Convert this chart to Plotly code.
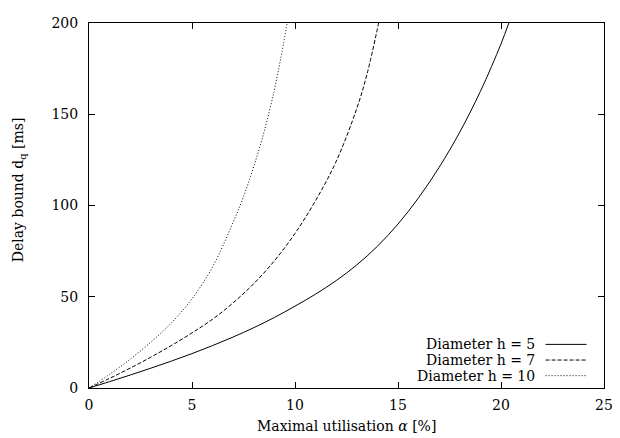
import plotly.graph_objects as go

# Data
util_h5 = [0, 1, 2, 3, 4, 5, 6, 7, 8, 9, 10, 11, 12, 13, 14, 15, 16, 17, 18, 19, 20, 20.38]
delay_h5 = [0, 3.5, 7.1, 10.85, 14.75, 18.85, 23.25, 27.95, 33.05, 38.65, 44.85, 51.45, 58.85,
            67.45, 77.65, 89.85, 104.25, 120.95, 140.25, 162.55, 188.55, 200]

util_h7 = [0, 1, 2, 3, 4, 5, 6, 7, 8, 9, 10, 11, 12, 13, 13.5, 14.06]
delay_h7 = [0, 5.3, 10.9, 16.9, 23.3, 30.2, 37.7, 46.7, 57.2, 69.7, 84.7, 102.7, 124.2, 153.2, 172.2, 200]

util_h10 = [0, 1, 2, 3, 4, 5, 6, 7, 7.5, 8, 8.5, 9, 9.3, 9.62]
delay_h10 = [0, 7.5, 15.8, 25.1, 35.7, 48.9, 66.4, 90.9, 104.9, 121.4, 140.4, 163.4, 180.2, 200]

series_names = ["Diameter h = 5", "Diameter h = 7", "Diameter h = 10"]
x_ticks = [0, 5, 10, 15, 20, 25]
y_ticks = [0, 50, 100, 150, 200]

dashes = ["solid", "4px,2px", "1px,2px"]
FONT = "DejaVu Serif, Liberation Serif, serif"
FS = 14

fig = go.Figure()
for xs, ys, name, d in zip([util_h5, util_h7, util_h10],
                           [delay_h5, delay_h7, delay_h10],
                           series_names, dashes):
    fig.add_trace(go.Scatter(x=xs, y=ys, mode="lines", name=name,
                             line=dict(color="black", width=1, dash=d, shape="spline", smoothing=1.0),
                             showlegend=False))

axis_common = dict(showline=True, linecolor="black", linewidth=1, mirror="allticks",
                   ticks="inside", ticklen=6, tickwidth=1, tickcolor="black",
                   showgrid=False, zeroline=False, ticklabeloverflow="allow",
                   tickfont=dict(family=FONT, size=FS, color="black"))

fig.update_xaxes(range=[0, 25], tickvals=x_ticks, ticktext=[str(v) for v in x_ticks],
                 ticklabelstandoff=4, **axis_common)
fig.update_yaxes(range=[0, 200], tickvals=y_ticks, ticktext=[str(v) for v in y_ticks],
                 ticklabelstandoff=7, **axis_common)

annotations = [
    dict(text="Delay bound d<sub>q</sub> [ms]", textangle=-90,
         xref="paper", yref="paper", x=-0.137, y=0.543,
         xanchor="center", yanchor="middle", showarrow=False,
         font=dict(family=FONT, size=FS, color="black")),
    dict(text="Maximal utilisation <i>α</i> [%]",
         xref="paper", yref="paper", x=0.5, y=-0.104,
         xanchor="center", yanchor="middle", showarrow=False,
         font=dict(family=FONT, size=FS, color="black")),
]
shapes = []
legend_y = [0.1195, 0.0766, 0.0338]
for name, d, ly in zip(series_names, dashes, legend_y):
    annotations.append(dict(text=name, xref="paper", yref="paper", x=0.8701, y=ly,
                            xanchor="right", yanchor="middle", showarrow=False,
                            font=dict(family=FONT, size=FS, color="black")))
    shapes.append(dict(type="line", xref="paper", yref="paper", x0=0.8865, x1=0.966,
                       y0=ly, y1=ly, line=dict(color="black", width=1, dash=d)))

# page body has an 8px margin, so the figure is made 8px smaller and shifted
fig.update_layout(width=612, height=430, margin=dict(l=81, r=11, t=7, b=50),
                  plot_bgcolor="white", paper_bgcolor="white",
                  font=dict(family=FONT, size=FS, color="black"),
                  annotations=annotations, shapes=shapes)

fig.write_html("out.html")
